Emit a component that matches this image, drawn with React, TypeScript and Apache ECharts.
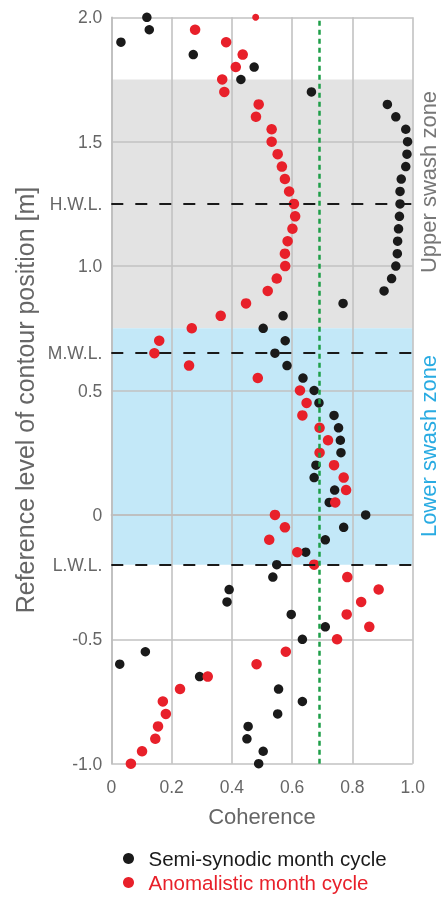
import React, { useEffect, useRef } from "react";
import * as echarts from "echarts";

const levels = [
  2.0, 1.95, 1.9, 1.85, 1.8, 1.75, 1.7, 1.65, 1.6, 1.55, 1.5, 1.45, 1.4, 1.35, 1.3, 1.25,
  1.2, 1.15, 1.1, 1.05, 1.0, 0.95, 0.9, 0.85, 0.8, 0.75, 0.7, 0.65, 0.6, 0.55, 0.5, 0.45,
  0.4, 0.35, 0.3, 0.25, 0.2, 0.15, 0.1, 0.05, 0.0, -0.05, -0.1, -0.15, -0.2, -0.25, -0.3,
  -0.35, -0.4, -0.45, -0.5, -0.55, -0.6, -0.65, -0.7, -0.75, -0.8, -0.85, -0.9, -0.95, -1.0,
];

const semiSynodic = [
  0.118, 0.126, 0.032, 0.272, 0.474, 0.43, 0.664, 0.916, 0.944, 0.977, 0.983, 0.981, 0.977,
  0.962, 0.958, 0.958, 0.956, 0.953, 0.95, 0.949, 0.944, 0.93, 0.905, 0.769, 0.57, 0.504,
  0.577, 0.543, 0.583, 0.636, 0.673, 0.689, 0.739, 0.754, 0.76, 0.762, 0.679, 0.673, 0.741,
  0.723, 0.844, 0.771, 0.71, 0.645, 0.549, 0.536, 0.391, 0.384, 0.597, 0.71, 0.634, 0.113,
  0.028, 0.293, 0.555, 0.634, 0.552, 0.454, 0.45, 0.504, 0.489,
];

const anomalistic = [
  0.479, 0.278, 0.381, 0.436, 0.413, 0.368, 0.375, 0.489, 0.48, 0.532, 0.532, 0.552, 0.566,
  0.576, 0.59, 0.606, 0.61, 0.601, 0.585, 0.576, 0.577, 0.549, 0.519, 0.447, 0.363, 0.267,
  0.159, 0.143, 0.258, 0.486, 0.626, 0.648, 0.634, 0.691, 0.719, 0.691, 0.739, 0.771, 0.779,
  0.743, 0.543, 0.576, 0.524, 0.617, 0.673, 0.783, 0.887, 0.829, 0.781, 0.856, 0.749, 0.579,
  0.482, 0.32, 0.228, 0.171, 0.181, 0.155, 0.146, 0.102, 0.065,
];

const xTicks = ["0", "0.2", "0.4", "0.6", "0.8", "1.0"];
const yTickLabels: Record<number, string> = {
  200: "2.0",
  150: "1.5",
  125: "H.W.L.",
  100: "1.0",
  65: "M.W.L.",
  50: "0.5",
  0: "0",
  [-20]: "L.W.L.",
  [-50]: "-0.5",
  [-100]: "-1.0",
};

const waterLevels = [1.25, 0.65, -0.2]; // H.W.L., M.W.L., L.W.L.
const coherenceThreshold = 0.687;
const upperZone = [0.75, 1.75];
const lowerZone = [-0.2, 0.75];

const seriesNames = ["Semi-synodic month cycle", "Anomalistic month cycle"];
const yTitle = "Reference level of contour position [m]";
const FONT = "'Liberation Sans', Arial, sans-serif";

export default function App() {
  const ref = useRef<HTMLDivElement>(null);
  useEffect(() => {
    if (!ref.current) return;
    const chart = echarts.init(ref.current, undefined, { renderer: "svg" });
    const blackData = levels.map((y, i) => [semiSynodic[i], y]);
    const redData = levels.map((y, i) =>
      i === 0 ? { value: [anomalistic[i], y], symbolSize: 7 } : [anomalistic[i], y]
    );
    chart.setOption({
      animation: false,
      textStyle: { fontFamily: FONT },
      grid: { left: 111.3, right: 31.3, top: 17.3, bottom: 138.3 },
      xAxis: {
        type: "value",
        min: 0,
        max: 1,
        interval: 0.2,
        z: 2,
        axisLine: { show: true, lineStyle: { color: "#bdbdbd", width: 1.5 } },
        axisTick: { show: false },
        splitLine: { show: true, lineStyle: { color: "#c2c2c2", width: 1.6 } },
        axisLabel: {
          color: "#666",
          fontSize: 17.5,
          margin: 14,
          fontFamily: FONT,
          formatter: (v: number) => xTicks[Math.round(v * 5)] ?? "",
        },
        name: "Coherence",
        nameLocation: "middle",
        nameGap: 42,
        nameTextStyle: { color: "#666", fontSize: 22, fontFamily: FONT },
      },
      yAxis: [
        {
          type: "value",
          min: -1,
          max: 2,
          interval: 0.5,
          z: 2,
          axisLine: { show: true, lineStyle: { color: "#bdbdbd", width: 1.5 } },
          axisTick: { show: false },
          splitLine: { show: true, lineStyle: { color: "#c2c2c2", width: 1.6 } },
          axisLabel: { show: false },
        },
        {
          type: "value",
          min: -1,
          max: 2,
          interval: 0.05,
          position: "left",
          offset: 0,
          z: 2,
          axisLine: { show: false },
          axisTick: { show: false },
          splitLine: { show: false },
          axisLabel: {
            color: "#666",
            fontSize: 17.5,
            margin: 9,
            fontFamily: FONT,
            formatter: (v: number) => yTickLabels[Math.round(v * 100)] ?? "",
          },
        },
      ],
      legend: {
        orient: "vertical",
        left: 118,
        top: 843,
        itemWidth: 30,
        itemHeight: 11,
        itemGap: 3,
        icon: "circle",
        textStyle: { fontSize: 20.5, fontFamily: FONT },
        data: [
          { name: seriesNames[0], textStyle: { color: "#1a1a1a" } },
          { name: seriesNames[1], textStyle: { color: "#e8202a" } },
        ],
      },
      graphic: [
        {
          type: "text",
          x: 25,
          y: 400,
          rotation: Math.PI / 2,
          style: {
            text: yTitle,
            fill: "#666",
            fontSize: 25,
            fontFamily: FONT,
            align: "center",
            verticalAlign: "middle",
          },
        },
        {
          type: "text",
          x: 428,
          y: 182,
          rotation: Math.PI / 2,
          style: {
            text: "Upper swash zone",
            fill: "#777",
            fontSize: 22,
            fontFamily: FONT,
            align: "center",
            verticalAlign: "middle",
          },
        },
        {
          type: "text",
          x: 428,
          y: 446,
          rotation: Math.PI / 2,
          style: {
            text: "Lower swash zone",
            fill: "#29abe2",
            fontSize: 22,
            fontFamily: FONT,
            align: "center",
            verticalAlign: "middle",
          },
        },
      ],
      series: [
        {
          type: "scatter",
          name: "bands",
          data: [],
          z: 1,
          silent: true,
          markArea: {
            silent: true,
            data: [
              [
                { yAxis: upperZone[0], itemStyle: { color: "#e3e3e3" } },
                { yAxis: upperZone[1] },
              ],
              [
                { yAxis: lowerZone[0], itemStyle: { color: "#c3e8f8" } },
                { yAxis: lowerZone[1] },
              ],
            ],
          },
        },
        {
          type: "scatter",
          name: "levels",
          data: [],
          z: 2.5,
          silent: true,
          markLine: {
            silent: true,
            symbol: "none",
            label: { show: false },
            data: [
              ...waterLevels.map((v) => ({
                yAxis: v,
                lineStyle: { color: "#1a1a1a", width: 2, type: [12, 12] },
              })),
              {
                xAxis: coherenceThreshold,
                lineStyle: { color: "#1e9e48", width: 2.5, type: [5, 4] },
              },
            ],
          },
        },
        {
          type: "scatter",
          name: seriesNames[0],
          data: blackData,
          symbolSize: 9.5,
          z: 3,
          clip: false,
          itemStyle: { color: "#1a1a1a", opacity: 1 },
        },
        {
          type: "scatter",
          name: seriesNames[1],
          data: redData,
          symbolSize: 10.5,
          z: 3,
          clip: false,
          itemStyle: { color: "#e8202a", opacity: 1 },
        },
      ],
    });
    return () => chart.dispose();
  }, []);
  return (
    <div
      ref={ref}
      style={{ position: "fixed", left: 0, top: 0, width: 444, height: 902 }}
    />
  );
}
